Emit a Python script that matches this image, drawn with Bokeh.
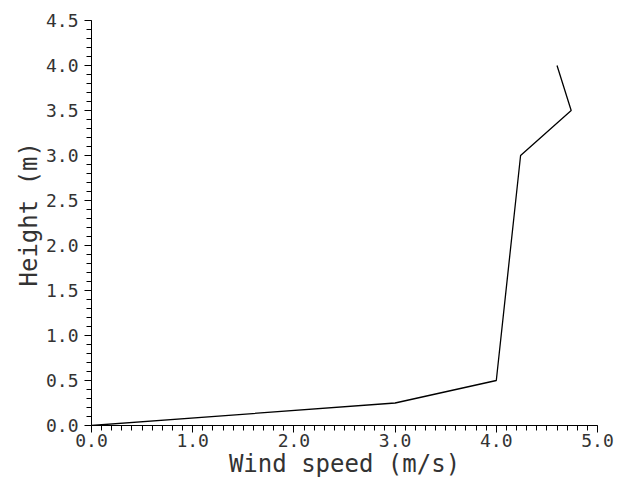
from bokeh.plotting import figure
from bokeh.models import Range1d, FixedTicker, Title
from bokeh.embed import file_html
from bokeh.resources import INLINE

# Data
wind_speed = [0.0, 3.0, 4.0, 4.24, 4.74, 4.6]
height = [0.0, 0.25, 0.5, 3.0, 3.5, 4.0]

x_major = [0.0, 1.0, 2.0, 3.0, 4.0, 5.0]
x_labels = ["0.0", "1.0", "2.0", "3.0", "4.0", "5.0"]
y_major = [0.0, 0.5, 1.0, 1.5, 2.0, 2.5, 3.0, 3.5, 4.0, 4.5]
y_labels = ["0.0", "0.5", "1.0", "1.5", "2.0", "2.5", "3.0", "3.5", "4.0", "4.5"]
x_minor = [i / 10 for i in range(0, 51)]
y_minor = [i / 10 for i in range(0, 46)]

x_title = "Wind speed (m/s)"
y_title = "Height (m)"

FONT = "DejaVu Sans Mono"
TXT = "#333333"

p = figure(width=620, height=480, output_backend="svg", toolbar_location=None,
           x_range=Range1d(0, 5), y_range=Range1d(0, 4.5),
           min_border_left=91, min_border_right=23, min_border_top=20,
           min_border_bottom=55)
p.outline_line_color = None
p.grid.visible = False
p.background_fill_color = "white"
p.border_fill_color = "white"

p.line(wind_speed, height, line_color="black", line_width=1.3)

for ax, major, minor, labels in ((p.xaxis[0], x_major, x_minor, x_labels),
                                 (p.yaxis[0], y_major, y_minor, y_labels)):
    ax.ticker = FixedTicker(ticks=major, minor_ticks=minor)
    ax.major_label_overrides = {v: l for v, l in zip(major, labels)}
    ax.axis_line_color = "black"
    ax.axis_line_width = 1
    ax.major_tick_line_color = "black"
    ax.minor_tick_line_color = "black"
    ax.major_tick_in = 0
    ax.major_tick_out = 7
    ax.minor_tick_in = 0
    ax.minor_tick_out = 5
    ax.major_label_text_font = FONT
    ax.major_label_text_font_size = "18px"
    ax.major_label_text_color = TXT

p.xaxis[0].major_label_standoff = 1
p.yaxis[0].major_label_standoff = 6

xa = p.xaxis[0]
xa.axis_label = x_title
xa.axis_label_text_font = FONT
xa.axis_label_text_font_size = "24px"
xa.axis_label_text_font_style = "normal"
xa.axis_label_text_color = TXT
xa.axis_label_standoff = 0

yt = Title(text=y_title, align="left", offset=139, text_font=FONT,
           text_font_size="24px", text_font_style="normal", text_color=TXT,
           standoff=0)
p.add_layout(yt, "left")

open("out.html", "w").write(file_html(p, INLINE))
